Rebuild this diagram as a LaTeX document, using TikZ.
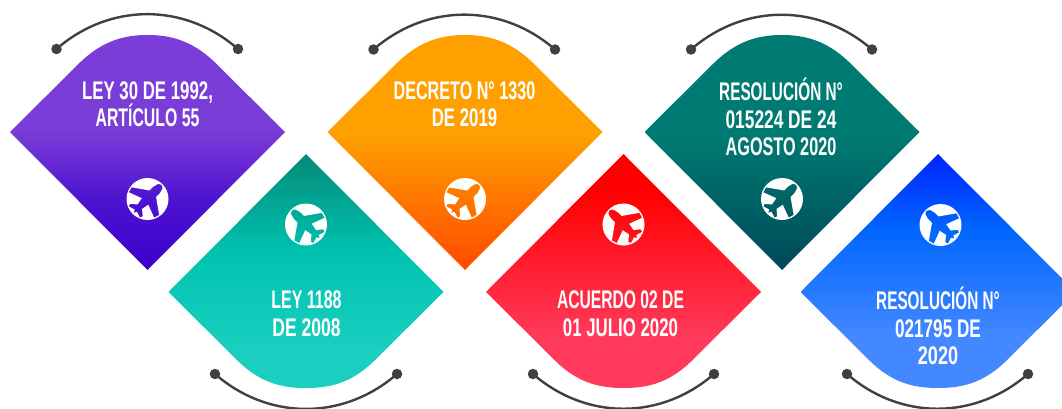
\documentclass[tikz,border=0pt]{standalone}
\usepackage{fontspec}
\setmainfont{Liberation Sans}[FakeStretch=0.66]
\definecolor{c1a}{HTML}{3A00CC}\definecolor{c1b}{HTML}{7B3DD8}
\definecolor{c2a}{HTML}{1ACFC0}\definecolor{c2m}{HTML}{00C2B0}\definecolor{c2b}{HTML}{048A78}
\definecolor{c3a}{HTML}{FF4A00}\definecolor{c3b}{HTML}{FFA000}
\definecolor{c4a}{HTML}{FF3A5C}\definecolor{c4b}{HTML}{FF0000}
\definecolor{c5a}{HTML}{004858}\definecolor{c5b}{HTML}{007B73}
\definecolor{c6a}{HTML}{4488FF}\definecolor{c6m}{HTML}{0066FF}\definecolor{c6b}{HTML}{0024FF}
\definecolor{arcgray}{HTML}{404040}
\pgfdeclareverticalshading{gpurple}{100bp}{color(0bp)=(c1a);color(25bp)=(c1a);color(40bp)=(c1a!70!c1b);color(55bp)=(c1b);color(75bp)=(c1b);color(100bp)=(c1b)}
\pgfdeclareverticalshading{gteal}{100bp}{color(0bp)=(c2a);color(25bp)=(c2a);color(33bp)=(c2a);color(54bp)=(c2m);color(75bp)=(c2b);color(100bp)=(c2b)}
\pgfdeclareverticalshading{gorange}{100bp}{color(0bp)=(c3a);color(25bp)=(c3a);color(54bp)=(c3b);color(75bp)=(c3b);color(100bp)=(c3b)}
\pgfdeclareverticalshading{gred}{100bp}{color(0bp)=(c4a);color(25bp)=(c4a);color(36bp)=(c4a);color(67bp)=(c4b);color(75bp)=(c4b);color(100bp)=(c4b)}
\pgfdeclareverticalshading{gdark}{100bp}{color(0bp)=(c5a);color(25bp)=(c5a);color(54bp)=(c5b);color(75bp)=(c5b);color(100bp)=(c5b)}
\pgfdeclareverticalshading{gblue}{100bp}{color(0bp)=(c6a);color(25bp)=(c6a);color(36bp)=(c6a);color(59bp)=(c6m);color(75bp)=(c6b);color(100bp)=(c6b)}
\tikzset{
  x=1pt,y=-1pt,
  label text/.style={text=white,align=center,inner sep=0pt,font=\fontsize{25.5}{27.5}\selectfont\bfseries},
  dot/.style={circle,fill=arcgray,minimum size=10.5pt,inner sep=0pt},
  arc line/.style={draw=arcgray,line width=2.4pt},
}
\newcommand{\sx}[2]{\scalebox{#1}[1]{#2}}
% centre x, shading
\newcommand{\upblade}[2]{\shade[shading=#2,shift={(#1,0)}] (-137.5,132) -- (-67,62) .. controls (-44,40) and (-22,35) .. (0,35) .. controls (22,35) and (44,40) .. (67,62) -- (137.5,132) -- (0,270) -- cycle;}
\newcommand{\downblade}[2]{\shade[shading=#2,shift={(#1,0)}] (-137.5,292) -- (-67,362) .. controls (-44,384) and (-22,388) .. (0,388) .. controls (22,388) and (44,384) .. (67,362) -- (137.5,292) -- (0,154) -- cycle;}
% x, y, rotation
\newcommand{\planeicon}[3]{\fill[white,even odd rule,shift={(#1,#2)}] (0,0) circle[radius=21]
  [rotate=#3] (0,-20) .. controls (3,-19.5) and (4.6,-16) .. (4.6,-13) -- (4.6,-7.5) -- (19.5,3) -- (18,8.5) -- (4.6,3.5) -- (3.2,11) -- (8.8,15.5) -- (8,18.5) -- (1.6,16.5) -- (0,19.5) -- (-1.6,16.5) -- (-8,18.5) -- (-8.8,15.5) -- (-3.2,11) -- (-4.6,3.5) -- (-18,8.5) -- (-19.5,3) -- (-4.6,-7.5) -- (-4.6,-13) .. controls (-4.6,-16) and (-3,-19.5) .. (0,-20) -- cycle;}
\begin{document}
\begin{tikzpicture}
\fill[white] (0,0) rectangle (1062,409);
\useasboundingbox (0,0) rectangle (1062,409);
\begin{scope}
\clip (0,0) rectangle (1062,409);
\upblade{147.5}{gpurple}
\upblade{465}{gorange}
\upblade{782}{gdark}
\downblade{306}{gteal}
\downblade{623.5}{gred}
\downblade{938}{gblue}
\planeicon{147.5}{199}{-45}
\planeicon{465}{199}{-45}
\planeicon{782}{199}{-45}
\planeicon{306}{224.5}{45}
\planeicon{623.5}{224.5}{45}
\planeicon{940.5}{225}{45}
\node[label text] (t1) at (147.5,104) {LEY 30 DE 1992,\\\sx{.94}{ARTÍCULO 55}};
\node[label text] (t2) at (464.5,104) {\sx{.96}{DECRETO N° 1330}\\DE 2019};
\node[label text] (t3) at (781,117) {\sx{.91}{RESOLUCIÓN N°}\\\sx{1.03}{015224 DE 24}\\\sx{.965}{AGOSTO 2020}};
\node[label text] (t4) at (306.5,313.5) {\sx{.95}{LEY 1188}\\\sx{1.04}{DE 2008}};
\node[label text] (t5) at (620.5,313.5) {\sx{.93}{ACUERDO 02 DE}\\01 JULIO 2020};
\node[label text] (t6) at (938,326) {\sx{.91}{RESOLUCIÓN N°}\\\sx{1.02}{021795 DE}\\\sx{1.08}{2020}};
\node[dot] (a1) at (56.5,49) {};
\node[dot] (b1) at (238,49) {};
\node[dot] (a2) at (373.5,49.5) {};
\node[dot] (b2) at (555,49.5) {};
\node[dot] (a3) at (691,49.5) {};
\node[dot] (b3) at (872,49.5) {};
\node[dot] (a4) at (215,374) {};
\node[dot] (b4) at (397,374) {};
\node[dot] (a5) at (533,374) {};
\node[dot] (b5) at (714,374) {};
\node[dot] (a6) at (847,374) {};
\node[dot] (b6) at (1028,374) {};
\draw[arc line] (a1.center) to[bend left=41] (b1.center);
\draw[arc line] (a2.center) to[bend left=41] (b2.center);
\draw[arc line] (a3.center) to[bend left=41] (b3.center);
\draw[arc line] (a4.center) to[bend right=41] (b4.center);
\draw[arc line] (a5.center) to[bend right=41] (b5.center);
\draw[arc line] (a6.center) to[bend right=41] (b6.center);
\end{scope}
\end{tikzpicture}
\end{document}
